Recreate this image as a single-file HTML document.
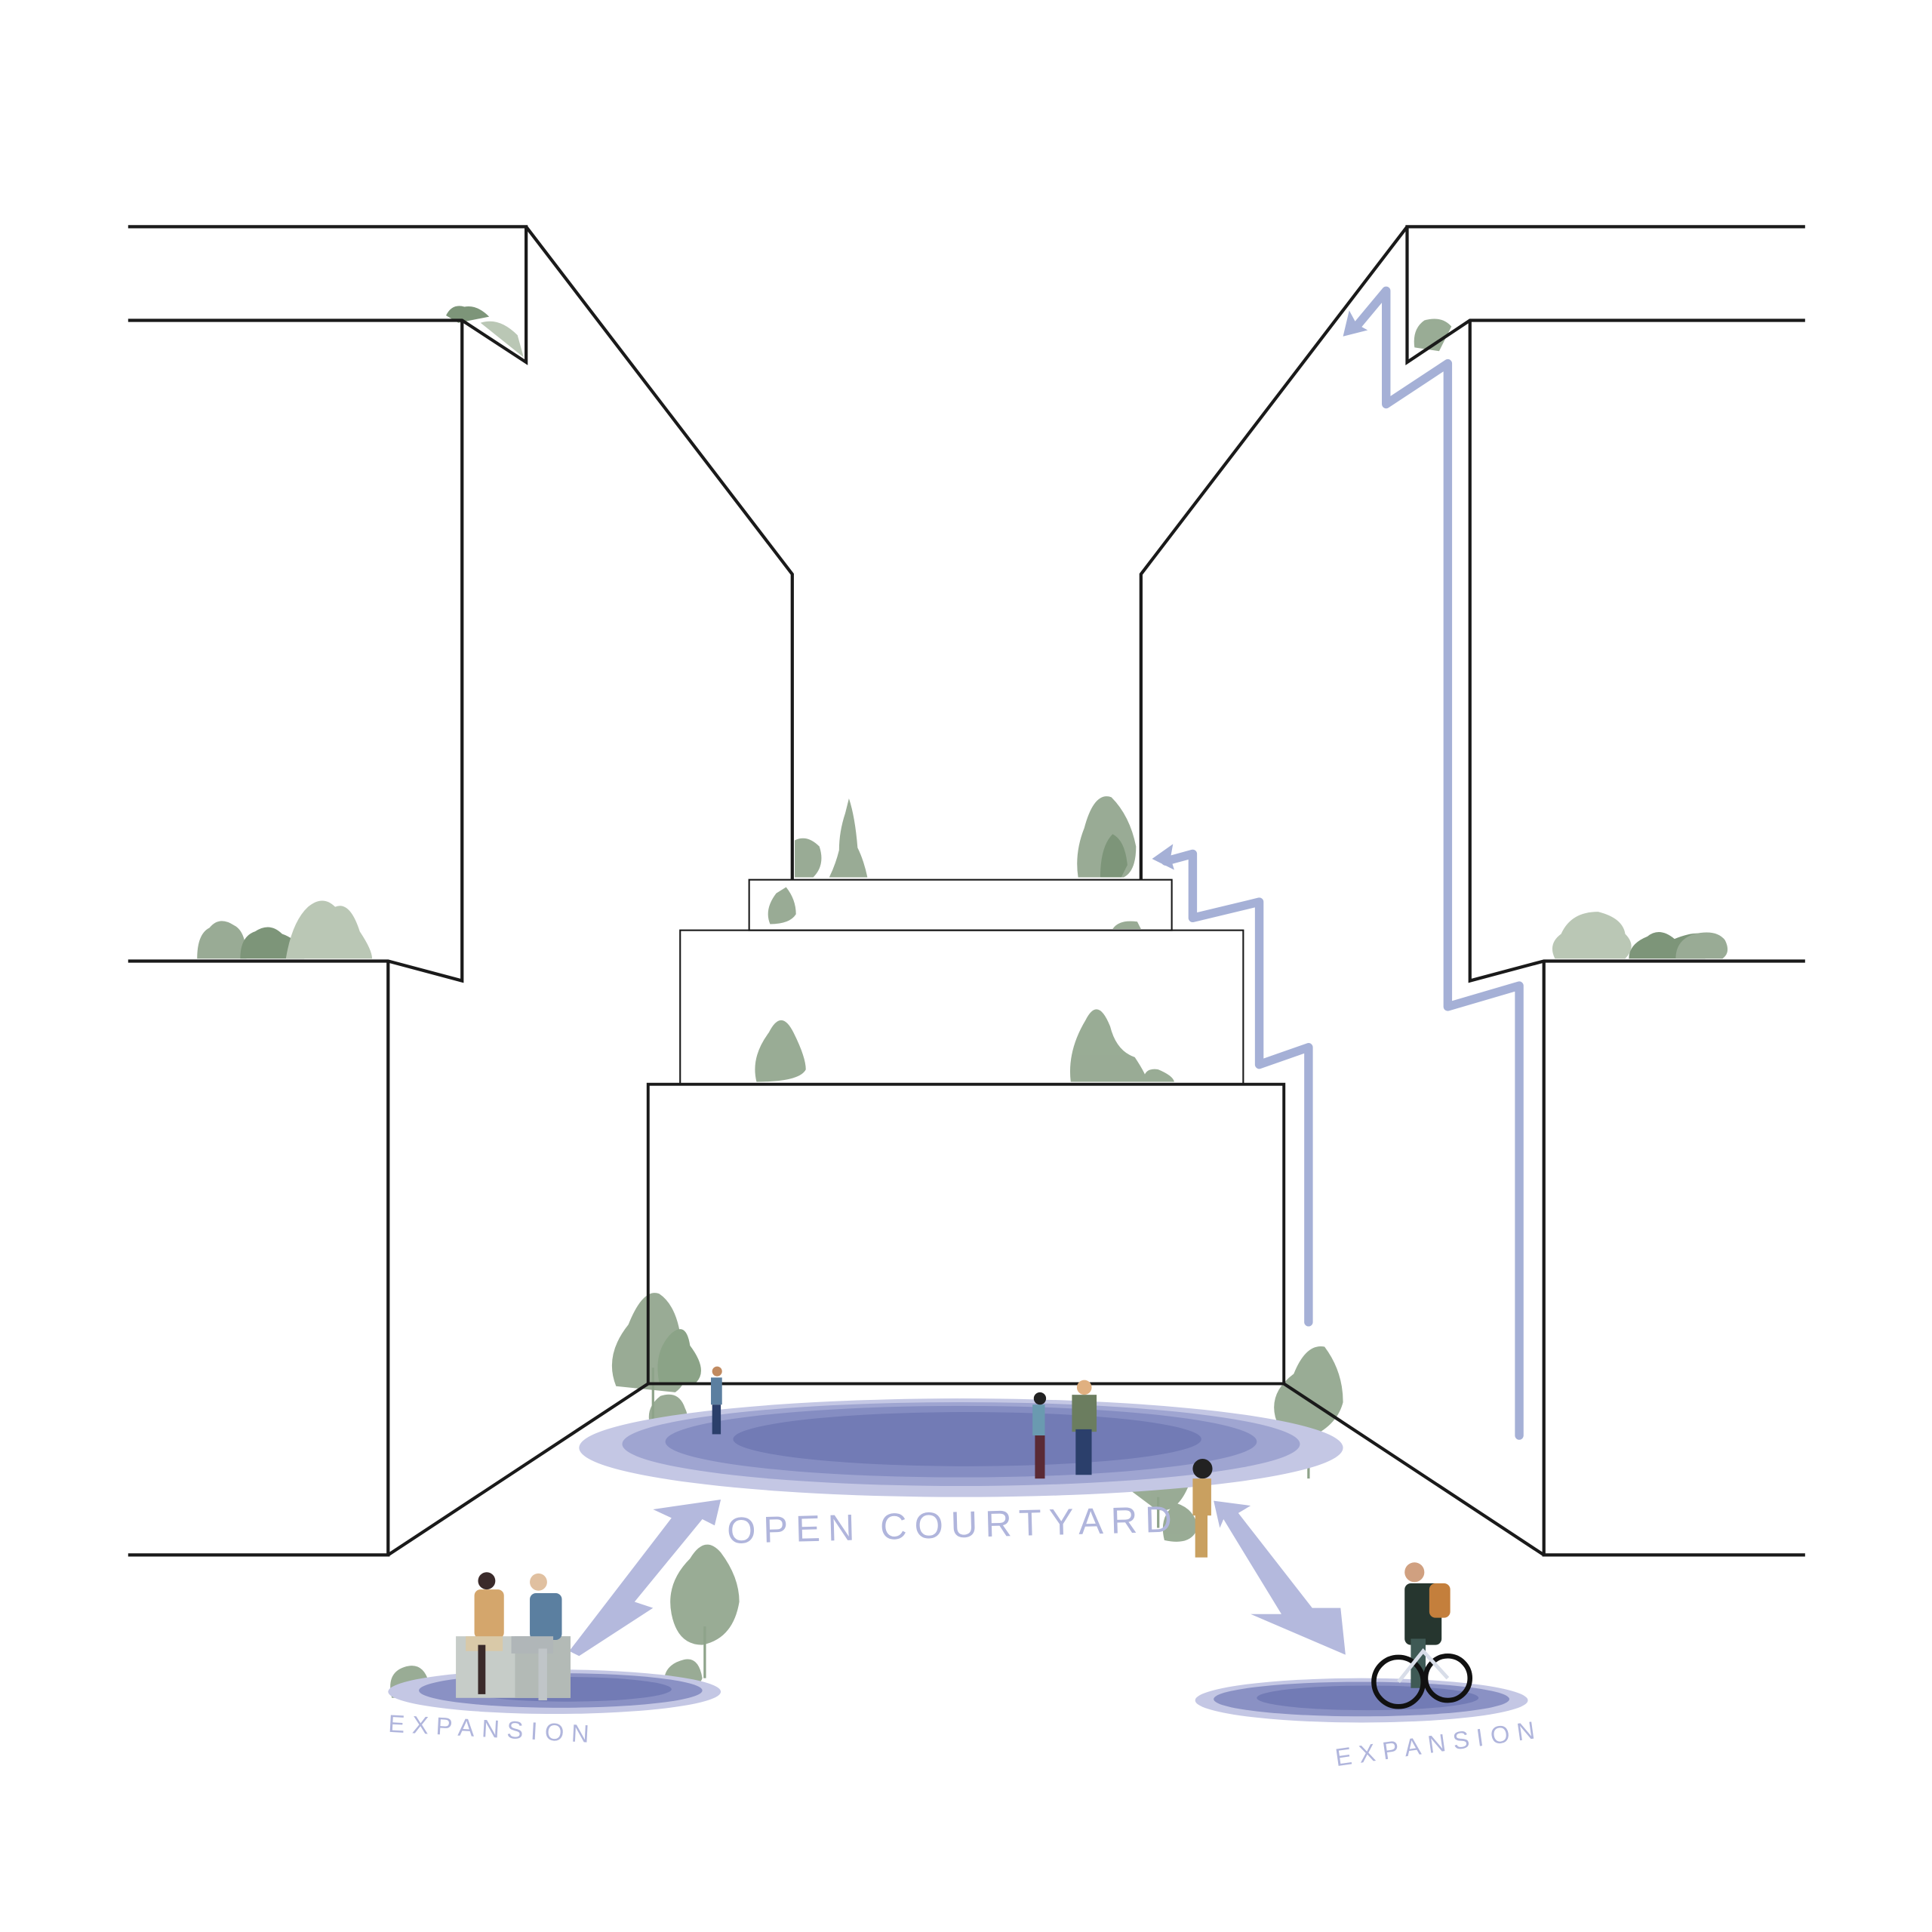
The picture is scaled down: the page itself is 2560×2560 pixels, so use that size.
<!DOCTYPE html>
<html><head><meta charset="utf-8"><style>
html,body{margin:0;padding:0;background:#fff}
svg{display:block}
</style></head><body>
<svg width="2560" height="2560" viewBox="0 0 1568 1568" xmlns="http://www.w3.org/2000/svg">
<rect width="1568" height="1568" fill="#fff"/>
<!-- greenery -->
<g fill="#8ea38a" opacity="0.9">
<path d="M362,256 q5,-10 15,-7 q10,-2 20,8 l-25,5z" fill="#6f8a6b"/>
<path d="M390,262 q15,-5 30,10 l5,18 z" fill="#b3c1ae"/>
<path d="M160,778 q0,-20 10,-25 q8,-10 20,-2 q10,5 10,27z"/>
<path d="M195,778 q0,-18 12,-22 q12,-8 22,2 q15,5 18,20z" fill="#6f8a6b"/>
<path d="M232,778 q5,-30 18,-42 q12,-10 22,0 q12,-5 20,20 q10,15 10,22z" fill="#b3c1ae"/>
<path d="M1262,778 q-6,-12 5,-20 q8,-18 30,-18 q20,5 22,18 q10,10 0,20z" fill="#b3c1ae"/>
<path d="M1322,778 q0,-12 15,-18 q10,-8 22,2 q15,-6 22,-4 q8,8 3,20z" fill="#6f8a6b"/>
<path d="M1360,778 q0,-15 15,-20 q18,-4 25,5 q5,10 -2,15z"/>
<path d="M1148,282 q-2,-15 8,-22 q14,-4 22,5 l-10,20z"/>
<path d="M645,712 l0,-30 q10,-5 20,5 q5,15 -5,25z"/>
<path d="M673,712 q5,-10 8,-22 q0,-15 5,-30 l3,-12 q5,15 7,40 q5,10 8,24z"/>
<path d="M875,712 q-3,-20 5,-40 q8,-30 22,-25 q15,15 20,40 q0,20 -10,25z"/>
<path d="M893,712 q0,-25 10,-35 q10,5 12,25 l-5,10z" fill="#6f8a6b"/>
<path d="M625,750 q-5,-12 5,-25 l8,-5 q8,10 8,22 q-5,8 -21,8z"/>
<path d="M903,754 q5,-8 20,-6 l3,6z"/>
<path d="M614,878 q-5,-20 10,-40 q10,-20 20,0 q10,20 10,30 q-5,10 -40,10z"/>
<path d="M869,878 q-3,-25 12,-50 q10,-20 20,5 q5,20 20,25 q10,15 10,20z"/>
<path d="M928,878 q0,-12 12,-10 q12,5 13,10z"/>
<path d="M500,1125 q-10,-25 10,-50 q12,-30 25,-25 q15,10 18,40 q10,30 -5,40z"/>
<path d="M535,1122 q-5,-25 10,-40 q12,-10 15,10 q15,20 5,30z" fill="#7f9a7b"/>
<path d="M528,1158 q-5,-15 8,-25 q15,-5 20,10 q5,10 -5,15z"/>
<path d="M1035,1150 q-5,-20 15,-35 q10,-25 25,-22 q15,20 15,45 q-5,20 -30,30 q-20,0 -25,-18z"/>
<path d="M918,1210 q-3,-30 15,-50 q12,-20 22,-10 q15,30 10,55 q-10,25 -27,20z"/>
<path d="M945,1250 q-5,-20 10,-30 q15,5 17,20 q-5,15 -27,10z"/>
<path d="M545,1310 q-5,-25 15,-45 q12,-20 25,-5 q15,20 15,40 q-5,30 -30,35 q-20,0 -25,-25z"/>
<path d="M318,1378 q-5,-20 10,-25 q15,-5 20,12 q5,13 -30,13z"/>
<path d="M540,1372 q-5,-20 15,-25 q12,-3 15,15 q-3,10 -30,10z"/>
</g>
<g stroke="#8ea38a" stroke-width="2" fill="none">
<line x1="530" y1="1110" x2="530" y2="1158"/><line x1="1062" y1="1160" x2="1062" y2="1200"/>
<line x1="940" y1="1215" x2="940" y2="1240"/><line x1="572" y1="1320" x2="572" y2="1362"/>
</g>
<!-- buildings -->
<g fill="none" stroke="#1a1a1a" stroke-width="2.6" stroke-linejoin="miter">
<polyline points="104,184 427,184 427,294 375,260 104,260"/>
<polyline points="427,184 643,466 643,714"/>
<polyline points="375,260 375,796 315,780 104,780"/>
<polyline points="315,780 315,1262 104,1262"/>
<polyline points="315,1262 526,1123"/>
<polyline points="1465,184 1142,184 1142,294 1193,260 1465,260"/>
<polyline points="1142,184 926,466 926,714"/>
<polyline points="1193,260 1193,796 1253,780 1465,780"/>
<polyline points="1253,780 1253,1262 1465,1262"/>
<polyline points="1253,1262 1042,1123"/>
<rect x="526" y="880" width="516" height="243" stroke-width="2.4"/>
</g>
<g fill="none" stroke="#1a1a1a" stroke-width="1.3">
<rect x="608" y="714" width="343" height="41"/>
<rect x="552" y="755" width="457" height="125"/>
</g>
<!-- blue paths -->
<g fill="none" stroke="#a5b0d6" stroke-width="7" stroke-linejoin="round" stroke-linecap="round">
<polyline points="1062,1073 1062,850 1022,864 1022,732 968,745 968,693 946,699"/>
<polyline points="1233,1165 1233,800 1175,817 1175,295 1125,328 1125,236 1100,266"/>
</g>
<polygon points="935,697 952,685 950,696 953,706" fill="#a5b0d6"/>
<polygon points="1090,273 1095,252 1101,263 1110,268" fill="#a5b0d6"/>
<!-- ellipses -->
<ellipse cx="780" cy="1175" rx="310" ry="40" fill="#c4c7e4"/>
<ellipse cx="780" cy="1172" rx="275" ry="34" fill="#9fa5d1"/>
<ellipse cx="780" cy="1170" rx="240" ry="29" fill="#858dc2"/>
<ellipse cx="785" cy="1168" rx="190" ry="22" fill="#727bb5"/>
<ellipse cx="450" cy="1373" rx="135" ry="18" fill="#c4c7e4"/>
<ellipse cx="455" cy="1372" rx="115" ry="14" fill="#8a91c4"/>
<ellipse cx="460" cy="1371" rx="85" ry="10" fill="#727bb5"/>
<ellipse cx="1105" cy="1380" rx="135" ry="18" fill="#c4c7e4"/>
<ellipse cx="1105" cy="1379" rx="120" ry="14" fill="#8a91c4"/>
<ellipse cx="1110" cy="1378" rx="90" ry="10" fill="#727bb5"/>
<!-- big arrows -->
<g fill="#b4b9dd">
<polygon points="585,1217 530,1225 545,1232 462,1340 470,1344 530,1305 515,1300 570,1233 580,1238"/>
<polygon points="985,1218 1015,1222 1005,1228 1065,1305 1088,1305 1092,1343 1015,1310 1040,1310 993,1233 990,1240"/>
</g>
<!-- bench + people -->
<rect x="370" y="1328" width="93" height="50" fill="#c6ccc8"/>
<rect x="418" y="1328" width="45" height="50" fill="#b3bab6"/>
<g>
<rect x="385" y="1290" width="24" height="40" rx="5" fill="#d4a66c"/>
<circle cx="395" cy="1283" r="7" fill="#3a2a2a"/>
<rect x="378" y="1328" width="30" height="12" fill="#d9c9a8"/>
<rect x="388" y="1335" width="6" height="40" fill="#3a2a2a"/>
<rect x="430" y="1293" width="26" height="38" rx="5" fill="#5b7fa0"/>
<circle cx="437" cy="1284" r="7" fill="#e0c0a0"/>
<rect x="415" y="1328" width="34" height="14" fill="#b0b6b8"/>
<rect x="437" y="1338" width="7" height="42" fill="#c0c5c8"/>
<rect x="577" y="1118" width="9" height="22" fill="#5b7fa0"/>
<rect x="578" y="1140" width="7" height="24" fill="#2b3f6b"/>
<circle cx="582" cy="1113" r="4" fill="#c08a60"/>
<rect x="838" y="1140" width="10" height="25" fill="#6a9ab0"/>
<rect x="840" y="1165" width="8" height="35" fill="#5a2a35"/>
<circle cx="844" cy="1135" r="5" fill="#222"/>
<rect x="870" y="1132" width="20" height="30" fill="#6b7d5f"/>
<rect x="873" y="1160" width="13" height="37" fill="#2b3f6b"/>
<circle cx="880" cy="1126" r="6" fill="#e0b080"/>
<rect x="968" y="1200" width="15" height="30" fill="#c9a060"/>
<rect x="970" y="1228" width="10" height="36" fill="#c9a060"/>
<circle cx="976" cy="1192" r="8" fill="#222"/>
<rect x="1140" y="1285" width="30" height="50" rx="5" fill="#26362f"/>
<rect x="1160" y="1285" width="17" height="28" rx="5" fill="#c47f3c"/>
<circle cx="1148" cy="1276" r="8" fill="#d0a080"/>
<rect x="1145" y="1330" width="12" height="40" fill="#3f5a55"/>
<circle cx="1135" cy="1365" r="20" fill="none" stroke="#111" stroke-width="4"/>
<circle cx="1175" cy="1362" r="18" fill="none" stroke="#111" stroke-width="4"/>
<polyline points="1135,1365 1155,1340 1175,1362" fill="none" stroke="#d8dde8" stroke-width="3"/>
</g>
<!-- text -->
<g font-family="Liberation Sans, sans-serif" fill="#b0b5dc">
<text x="590" y="1248" font-size="30" letter-spacing="6.2" transform="rotate(-1.5 765 1240)">OPEN COURTYARD</text>
<text x="315" y="1410" font-size="20" letter-spacing="6" transform="rotate(3 400 1405)">EXPANSION</text>
<text x="1082" y="1422" font-size="20" letter-spacing="6" transform="rotate(-8 1165 1408)">EXPANSION</text>
</g>
</svg>
</body></html>
